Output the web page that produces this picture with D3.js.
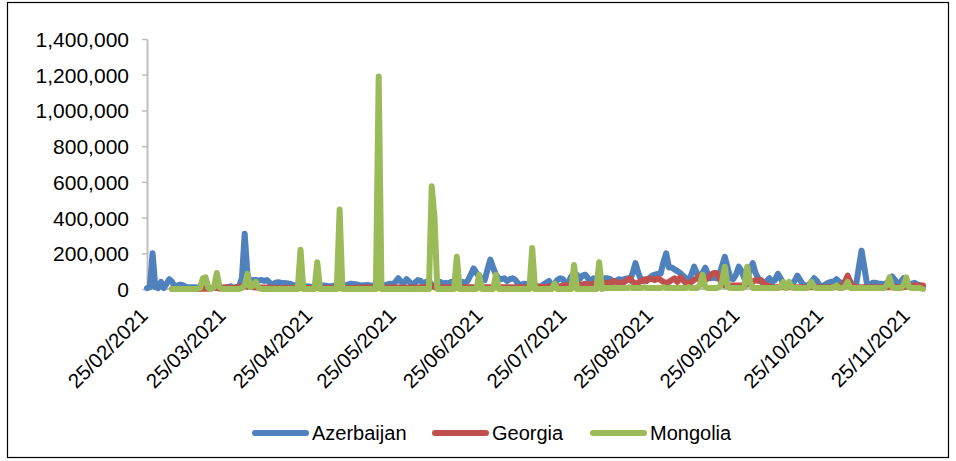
<!DOCTYPE html>
<html>
<head>
<meta charset="utf-8">
<script src="https://cdn.jsdelivr.net/npm/d3@7"></script>
<style>
body { margin: 0; background: #fff; }
text { font-family: "Liberation Sans", Arial, sans-serif; fill: #000; }
</style>
</head>
<body>
<div id="chart"></div>
<script>
// daily values, in thousands, starting 25/02/2021 (null = no data yet)
var startDate = "2021-02-25";
var seriesNames = ["Azerbaijan", "Georgia", "Mongolia"];
var seriesColors = ["#4f81bd", "#c0504d", "#9bbb59"];
var xTickLabels = ["25/02/2021", "25/03/2021", "25/04/2021", "25/05/2021", "25/06/2021",
	"25/07/2021", "25/08/2021", "25/09/2021", "25/10/2021", "25/11/2021"];
var yTicks = [0, 200000, 400000, 600000, 800000, 1000000, 1200000, 1400000];

var azerbaijan = [
	5,10,200,10,5,40,5,30,55,40,
	10,20,25,20,12,10,10,10,8,8,
	5,6,8,6,5,8,10,8,5,10,
	15,5,10,15,60,310,80,40,50,50,
	48,50,45,50,35,25,35,38,35,33,
	32,30,25,20,15,10,12,15,14,12,
	10,10,10,20,18,15,16,18,14,10,
	15,20,25,30,28,25,22,20,21,22,
	20,20,18,15,18,20,25,30,25,40,
	60,40,35,55,40,25,35,50,45,30,
	40,45,20,20,35,40,30,35,30,40,
	35,25,30,40,30,50,80,115,90,70,
	60,50,110,165,120,80,60,55,60,45,
	55,60,50,30,20,30,28,25,22,20,
	15,10,25,35,45,20,30,50,60,55,
	25,40,70,85,80,55,75,80,60,45,
	60,55,50,55,60,60,55,40,45,55,
	50,55,60,50,90,145,90,50,45,55,
	60,75,80,85,85,150,200,120,120,110,
	100,90,75,60,45,80,125,90,55,90,
	120,80,60,65,60,80,130,180,120,60,
	55,80,125,100,60,50,110,145,90,60,
	40,35,45,60,40,50,85,60,30,20,
	25,30,45,75,50,25,20,20,40,60,
	45,20,15,25,35,40,40,55,40,35,
	30,20,15,10,20,120,215,120,20,20,
	35,35,30,30,25,35,45,70,50,25,
	40,60,40,25,30,35,25,20,10
];

var georgia = [
	null,null,null,null,null,null,null,null,null,0,
	0,0,0,0,0,0,0,0,0,0,
	2,2,2,5,8,5,2,5,10,8,
	5,5,10,8,15,20,12,25,10,8,
	8,8,8,8,8,6,6,6,6,6,
	5,5,5,5,5,5,5,5,5,5,
	5,5,6,6,6,6,6,6,6,6,
	6,6,6,6,6,6,8,8,8,8,
	8,8,8,8,8,8,8,8,8,8,
	8,8,8,8,8,8,8,8,10,10,
	10,10,20,10,10,10,10,10,10,10,
	10,10,10,10,10,10,10,10,10,10,
	10,10,10,10,10,10,10,10,10,10,
	10,10,10,10,10,10,10,10,10,10,
	12,12,12,12,12,15,15,15,15,20,
	20,20,25,20,25,20,25,30,25,25,
	30,35,30,40,35,30,35,45,40,35,
	30,40,50,60,40,30,35,45,55,45,
	60,55,50,60,50,40,35,40,50,60,
	40,65,50,35,30,40,50,60,75,70,
	50,60,80,90,90,60,30,20,20,20,
	20,20,20,20,20,25,30,40,50,45,
	50,30,20,15,12,10,10,10,10,10,
	10,10,10,10,10,10,10,10,10,10,
	10,10,10,10,10,10,10,10,10,15,
	40,75,40,15,10,10,10,10,10,10,
	10,10,10,10,10,10,10,10,10,10,
	10,10,12,15,15,20,20,20,20
];

var mongolia = [
	null,null,null,null,null,null,null,null,null,0,
	0,0,0,0,0,0,0,0,0,5,
	60,65,5,0,10,90,10,0,0,0,
	0,0,0,0,5,20,85,10,20,40,
	5,0,0,0,0,0,0,0,0,0,
	0,0,0,0,0,220,0,0,0,0,
	0,150,0,0,0,0,0,0,0,445,
	0,0,0,0,0,0,0,0,0,0,
	0,0,0,1190,0,0,0,0,0,0,
	0,0,0,0,0,0,0,0,0,0,
	0,0,575,400,0,0,0,0,0,0,
	0,180,0,0,0,0,0,0,0,80,
	0,0,0,0,0,80,0,0,0,0,
	0,0,0,0,0,0,0,0,230,0,
	0,0,0,0,0,0,30,0,0,0,
	0,0,0,135,0,0,0,0,0,0,
	0,0,150,0,5,5,5,5,5,5,
	5,5,5,10,5,5,5,5,10,5,
	5,5,5,5,5,10,5,5,5,5,
	5,5,5,5,10,5,5,5,20,80,
	10,5,5,5,5,10,40,125,10,5,
	5,5,5,5,10,125,40,5,5,5,
	5,5,5,5,5,5,5,10,40,5,
	40,10,5,5,5,5,5,10,40,10,
	5,5,5,5,5,5,10,20,5,5,
	10,40,5,5,5,5,5,5,5,5,
	5,5,5,5,5,20,65,10,5,5,
	5,20,65,10,5,5,5,5,0
];

var W = 956, H = 461;
var margin = {top: 39, right: 33, bottom: 172, left: 147};
var width = W - margin.left - margin.right,
	height = H - margin.top - margin.bottom;

var start = d3.timeParse("%Y-%m-%d")(startDate);
var parseTick = d3.timeParse("%d/%m/%Y");
var allSeries = [azerbaijan, georgia, mongolia];

var x = d3.scaleTime()
	.domain([start, d3.timeDay.offset(start, azerbaijan.length - 1)])
	.range([0, width]);
var y = d3.scaleLinear().domain([0, 1400000]).range([height, 0]);

var svg = d3.select("#chart").append("svg")
	.attr("width", W)
	.attr("height", H);

// chart frame
svg.append("rect")
	.attr("x", 7.5).attr("y", 2.5)
	.attr("width", 941).attr("height", 455)
	.attr("fill", "none").attr("stroke", "#000").attr("stroke-width", 1.2);

var g = svg.append("g")
	.attr("transform", "translate(" + margin.left + "," + margin.top + ")");

// y axis
var yAxis = g.append("g")
	.call(d3.axisLeft(y).tickValues(yTicks).tickSize(5).tickSizeOuter(0).tickPadding(13)
		.tickFormat(d3.format(",")));
yAxis.select(".domain").attr("stroke", "#bfbfbf").attr("stroke-width", 2);
yAxis.selectAll(".tick line").attr("stroke", "#bfbfbf").attr("stroke-width", 1.5);
yAxis.selectAll("text").style("font-size", "21px").attr("dy", "0.36em");

// x axis baseline
g.append("line")
	.attr("x1", -1).attr("x2", width)
	.attr("y1", height).attr("y2", height)
	.attr("stroke", "#bfbfbf").attr("stroke-width", 2);

g.selectAll(".xlabel")
	.data(xTickLabels)
	.enter().append("text")
	.attr("class", "xlabel")
	.attr("text-anchor", "end")
	.style("font-size", "20.5px")
	.attr("transform", function(d) {
		return "translate(" + (x(parseTick(d)) + 2) + "," + (height + 28) + ") rotate(-45)";
	})
	.text(function(d) { return d; });

var line = d3.line()
	.defined(function(d) { return d != null; })
	.x(function(d, i) { return x(d3.timeDay.offset(start, i)); })
	.y(function(d) { return y(d * 1000); });

g.selectAll(".series")
	.data(allSeries)
	.enter().append("path")
	.attr("class", "series")
	.attr("fill", "none")
	.attr("stroke", function(d, i) { return seriesColors[i]; })
	.attr("stroke-width", 6)
	.attr("stroke-linejoin", "round")
	.attr("stroke-linecap", "round")
	.attr("d", line);

// legend
var legendX = [252, 432, 590];
var legend = svg.selectAll(".legend")
	.data(seriesNames)
	.enter().append("g")
	.attr("class", "legend")
	.attr("transform", function(d, i) { return "translate(" + legendX[i] + ",433)"; });

legend.append("line")
	.attr("x1", 3).attr("x2", 54)
	.attr("stroke", function(d, i) { return seriesColors[i]; })
	.attr("stroke-width", 6)
	.attr("stroke-linecap", "round");

legend.append("text")
	.attr("x", 60)
	.attr("dy", "0.36em")
	.style("font-size", "20px")
	.text(function(d) { return d; });
</script>
</body>
</html>
